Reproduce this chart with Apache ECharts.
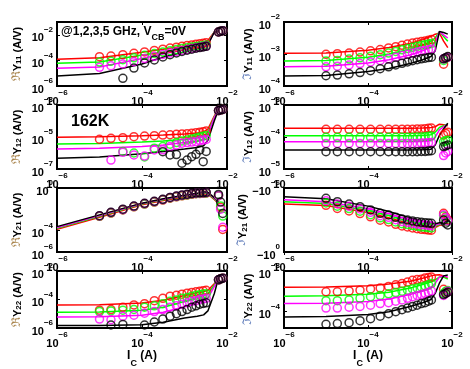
<!DOCTYPE html>
<html><head><meta charset="utf-8">
<script src="https://cdn.jsdelivr.net/npm/echarts@6/dist/echarts.min.js"></script>
<style>html,body{margin:0;padding:0;background:#fff}#c{width:470px;height:369px}</style>
</head><body><div id="c"></div>
<script>
// ---- data (log10 values; Ic in A, Y in A/V) ----
const lineXLeft  = [-6, -5, -4, -3.5, -3, -2.7, -2.55, -2.45, -2.3, -2.2];
const lineXRight = [-6, -5, -4, -3.5, -3, -2.7, -2.5, -2.4, -2.3, -2.2, -2.1];
const measX = [-5, -4.73, -4.45, -4.19, -3.94, -3.71, -3.51, -3.34, -3.19, -3.06, -2.94, -2.83, -2.73, -2.64, -2.56, -2.49, -2.2, -2.15, -2.1];
const freqLabels = ['5 GHz', '3 GHz', '2 GHz', '1 GHz'];
const xTickValues = [-6, -4, -2];

// order of rows in each table: 5, 3, 2, 1 GHz
const reY11Line = [
  [-3.91, -3.79, -3.37, -3.13, -2.88, -2.67, -2.58, -2.45, -1.8, -1.7],
  [-4.23, -4.13, -3.58, -3.34, -3.03, -2.88, -2.8, -2.64, -1.8, -1.7],
  [-4.62, -4.52, -3.85, -3.5, -3.15, -2.98, -2.88, -2.72, -1.8, -1.7],
  [-5.22, -5.02, -4.28, -3.73, -3.34, -3.1, -2.99, -2.8, -1.8, -1.7]];
const reY11Meas = [
  [-3.71, -3.66, -3.55, -3.45, -3.34, -3.22, -3.12, -3.04, -2.97, -2.9, -2.84, -2.79, -2.74, -2.7, -2.66, -2.62, -1.78, -1.72, -1.68],
  [-4.13, -4.06, -3.95, -3.8, -3.6, -3.46, -3.34, -3.24, -3.15, -3.08, -3.02, -2.96, -2.91, -2.87, -2.83, -2.79, -1.78, -1.72, -1.68],
  [-4.54, -4.41, -4.28, -4.1, -3.86, -3.68, -3.53, -3.42, -3.32, -3.23, -3.15, -3.08, -3.02, -2.97, -2.92, -2.88, -1.78, -1.72, -1.68],
  [null, null, -5.4, -4.6, -4.2, -3.97, -3.73, -3.55, -3.42, -3.3, -3.2, -3.12, -3.05, -3.0, -2.95, -2.9, -1.78, -1.72, -1.68]];

const imY11Line = [
  [-2.98, -2.97, -2.88, -2.8, -2.67, -2.55, -2.45, -2.38, -2.35, -2.6, -2.8],
  [-3.22, -3.2, -3.1, -3.0, -2.85, -2.72, -2.6, -2.5, -2.3, -2.45, -2.6],
  [-3.4, -3.38, -3.28, -3.18, -3.03, -2.9, -2.78, -2.65, -2.3, -2.4, -2.5],
  [-3.69, -3.67, -3.55, -3.45, -3.3, -3.18, -3.08, -2.9, -2.3, -2.33, -2.38]];
const imY11Meas = [
  [-3.01, -2.99, -2.97, -2.94, -2.9, -2.86, -2.81, -2.77, -2.73, -2.69, -2.66, -2.63, -2.61, -2.59, -2.57, -2.55, -3.32, -3.14, -3.1],
  [-3.22, -3.2, -3.16, -3.12, -3.07, -3.02, -2.97, -2.92, -2.87, -2.83, -2.79, -2.76, -2.73, -2.71, -2.69, -2.67, -3.2, -3.12, -3.1],
  [-3.4, -3.38, -3.34, -3.3, -3.25, -3.2, -3.15, -3.1, -3.05, -3.01, -2.97, -2.94, -2.91, -2.89, -2.87, -2.85, -3.15, -3.12, -3.1],
  [-3.68, -3.66, -3.62, -3.58, -3.52, -3.46, -3.4, -3.34, -3.29, -3.25, -3.21, -3.18, -3.15, -3.13, -3.11, -3.1, -3.15, -3.12, -3.08]];

const reY12Line = [
  [-5.02, -4.98, -4.92, -4.88, -4.82, -4.75, -4.68, -4.5, -3.7, -3.25],
  [-5.44, -5.4, -5.32, -5.25, -5.15, -5.05, -4.95, -4.7, -3.75, -3.25],
  [-5.75, -5.7, -5.6, -5.5, -5.35, -5.25, -5.15, -4.85, -3.8, -3.25],
  [-6.33, -6.25, -6.05, -5.9, -5.75, -5.65, -5.55, -5.2, -4.0, -3.3]];
const reY12Meas = [
  [-5.14, -5.08, -5.04, -4.98, -4.94, -4.92, -4.88, -4.86, -4.83, -4.81, -4.79, -4.77, -4.73, -4.7, -4.67, -4.62, -3.35, -3.3, -3.28],
  [null, null, -5.9, -6.0, -6.25, -5.7, -5.6, -5.45, -5.35, -5.25, -5.18, -5.12, -5.06, -5.0, -4.95, -4.9, -3.35, -3.3, -3.28],
  [null, -6.44, -5.96, -6.12, -6.19, -5.81, -5.8, -5.6, -5.5, -5.39, -5.35, -5.32, -5.29, -5.22, -5.19, -5.15, -3.35, -3.3, -3.28],
  [null, null, null, null, null, null, -5.92, -6.12, -6.1, -6.64, -6.44, -6.23, -6.08, -5.81, -6.54, -5.9, -3.35, -3.3, -3.28]];

const imY12Line = [
  [-3.73, -3.73, -3.73, -3.73, -3.73, -3.72, -3.7, -3.68, -3.6, -3.62, -3.65],
  [-3.96, -3.96, -3.96, -3.96, -3.96, -3.95, -3.93, -3.85, -3.7, -3.65, -3.6],
  [-4.15, -4.15, -4.15, -4.15, -4.15, -4.14, -4.12, -4.0, -3.78, -3.68, -3.6],
  [-4.41, -4.41, -4.41, -4.41, -4.41, -4.4, -4.38, -4.25, -3.95, -3.75, -3.57]];
const imY12Meas = [
  [-3.76, -3.76, -3.76, -3.76, -3.76, -3.76, -3.76, -3.76, -3.76, -3.76, -3.76, -3.75, -3.75, -3.74, -3.73, -3.72, -3.94, -3.89, -3.85],
  [-4.01, -4.01, -4.01, -4.01, -4.01, -4.01, -4.01, -4.01, -4.01, -4.01, -4.01, -4.0, -4.0, -3.99, -3.98, -3.97, -4.15, -4.12, -4.1],
  [-4.2, -4.2, -4.2, -4.2, -4.2, -4.2, -4.2, -4.2, -4.2, -4.2, -4.2, -4.2, -4.19, -4.19, -4.18, -4.17, -4.58, -4.5, -4.45],
  [-4.46, -4.46, -4.46, -4.46, -4.46, -4.46, -4.46, -4.46, -4.46, -4.46, -4.46, -4.46, -4.45, -4.45, -4.44, -4.43, -4.3, -4.28, -4.25]];

const reY21Line = [
  [-3.88, -2.74, -1.58, -1.18, -0.84, -0.67, -0.53, -0.58, -1.08, -1.44],
  [-3.78, -2.64, -1.5, -1.1, -0.77, -0.6, -0.46, -0.5, -1.02, -1.38],
  [-3.7, -2.58, -1.46, -1.06, -0.72, -0.55, -0.41, -0.44, -0.96, -1.32],
  [-3.62, -2.52, -1.42, -1.01, -0.67, -0.5, -0.36, -0.4, -0.9, -1.26]];
const reY21Meas = [
  [-2.66, -2.35, -2.06, -1.76, -1.51, -1.32, -1.13, -0.95, -0.83, -0.73, -0.66, -0.59, -0.54, -0.52, -0.5, -0.48, -0.72, -1.8, -3.88],
  [-2.64, -2.33, -2.04, -1.74, -1.49, -1.3, -1.1, -0.92, -0.8, -0.71, -0.64, -0.56, -0.52, -0.49, -0.48, -0.46, -0.72, -1.68, -2.63],
  [-2.62, -2.3, -2.02, -1.72, -1.46, -1.27, -1.08, -0.9, -0.78, -0.68, -0.61, -0.54, -0.49, -0.47, -0.46, -0.43, -0.72, -1.99, -3.68],
  [-2.59, -2.28, -1.99, -1.69, -1.44, -1.25, -1.06, -0.88, -0.76, -0.66, -0.59, -0.52, -0.47, -0.44, -0.43, -0.41, -0.6, -1.32, -2.38]];

// Im Y21 is negative: values are log10(|Im Y21|)
const imY21Line = [
  [-4.5, -4.35, -3.7, -3.2, -2.65, -2.38, -2.25, -2.3, -2.5, -2.55, -2.55],
  [-4.72, -4.55, -3.9, -3.42, -2.85, -2.58, -2.42, -2.4, -2.58, -2.62, -2.6],
  [-4.9, -4.72, -4.05, -3.58, -3.0, -2.72, -2.55, -2.5, -2.65, -2.68, -2.65],
  [-5.19, -5.0, -4.3, -3.8, -3.2, -2.9, -2.72, -2.65, -2.75, -2.75, -2.7]];
const imY21Meas = [
  [-4.38, -4.08, -3.85, -3.6, -3.3, -2.98, -2.82, -2.6, -2.44, -2.35, -2.26, -2.19, -2.13, -2.1, -2.06, -2.04, -3.63, -3.3, -3.0],
  [-4.6, -4.3, -4.07, -3.82, -3.5, -3.2, -3.04, -2.82, -2.66, -2.57, -2.48, -2.41, -2.35, -2.32, -2.28, -2.26, -3.4, -3.1, -2.85],
  [-4.8, -4.5, -4.28, -4.03, -3.72, -3.41, -3.25, -3.03, -2.87, -2.78, -2.69, -2.62, -2.56, -2.53, -2.49, -2.47, -3.5, -3.2, -2.9],
  [-5.03, -4.72, -4.5, -4.25, -3.94, -3.63, -3.47, -3.25, -3.09, -3.0, -2.91, -2.84, -2.78, -2.75, -2.71, -2.69, -3.0, -2.7, -2.53]];

const reY22Line = [
  [-4.38, -4.36, -4.25, -4.05, -3.72, -3.52, -3.45, -3.35, -2.9, -2.5],
  [-4.9, -4.88, -4.75, -4.55, -4.15, -3.85, -3.75, -3.6, -3.0, -2.5],
  [-5.23, -5.21, -5.1, -4.9, -4.5, -4.2, -4.08, -3.9, -3.1, -2.5],
  [-5.83, -5.82, -5.78, -5.6, -5.3, -5.18, -5.08, -4.8, -3.6, -2.5]];
const reY22Meas = [
  [-4.75, -4.71, -4.54, -4.38, -4.29, -4.08, -3.92, -3.77, -3.71, -3.63, -3.56, -3.5, -3.46, -3.42, -3.39, -3.35, -2.62, -2.55, -2.5],
  [-4.85, -4.8, -4.75, -4.7, -4.54, -4.44, -4.29, -4.13, -4.03, -3.92, -3.86, -3.78, -3.71, -3.66, -3.62, -3.6, -2.62, -2.55, -2.5],
  [-5.37, -5.42, -5.17, -5.1, -4.96, -4.85, -4.71, -4.54, -4.44, -4.33, -4.23, -4.13, -4.08, -4.0, -3.96, -3.92, -2.62, -2.55, -2.5],
  [null, -5.79, -5.75, null, -5.79, -5.58, -5.37, -5.17, -5.0, -4.85, -4.71, -4.54, -4.44, -4.33, -4.28, -4.23, -2.62, -2.55, -2.5]];

const imY22Line = [
  [-3.4, -3.39, -3.36, -3.32, -3.25, -3.18, -3.12, -3.1, -3.09, -3.12, -3.18],
  [-3.62, -3.61, -3.57, -3.52, -3.42, -3.33, -3.27, -3.22, -3.15, -3.15, -3.2],
  [-3.8, -3.79, -3.75, -3.69, -3.58, -3.49, -3.42, -3.3, -3.15, -3.12, -3.15],
  [-4.13, -4.12, -4.07, -4.0, -3.87, -3.78, -3.7, -3.55, -3.3, -3.12, -3.1]];
const imY22Meas = [
  [-3.51, -3.51, -3.49, -3.47, -3.44, -3.42, -3.38, -3.34, -3.31, -3.27, -3.23, -3.21, -3.2, -3.17, -3.16, -3.15, -3.45, -3.52, -3.5],
  [-3.73, -3.73, -3.71, -3.67, -3.63, -3.6, -3.56, -3.53, -3.5, -3.47, -3.44, -3.42, -3.39, -3.37, -3.34, -3.31, -3.55, -3.5, -3.48],
  [-3.91, -3.91, -3.89, -3.87, -3.84, -3.8, -3.78, -3.74, -3.71, -3.67, -3.63, -3.6, -3.58, -3.55, -3.53, -3.49, -3.6, -3.55, -3.5],
  [-4.31, -4.29, -4.27, -4.22, -4.17, -4.11, -4.05, -4.0, -3.95, -3.91, -3.87, -3.84, -3.8, -3.78, -3.74, -3.71, -3.58, -3.55, -3.52]];

// ---- chart ----
const colors = ['#ff0000', '#00ff00', '#ff00ff', '#000000'];
const FONT = 'Liberation Sans, Arial, Helvetica, sans-serif';
const colLeft = [57, 284], colWidth = [170, 168];
const rowTop = [22, 105, 188, 271], rowH = 64;

const panels = [
  {part: 'ℜ', sub: '11', line: reY11Line, meas: reY11Meas, lx: lineXLeft, col: 0, row: 0, min: -6, max: -1, ticks: [-6, -4, -2]},
  {part: 'ℑ', sub: '11', line: imY11Line, meas: imY11Meas, lx: lineXRight, col: 1, row: 0, min: -4, max: -2, ticks: [-4, -3, -2]},
  {part: 'ℜ', sub: '12', line: reY12Line, meas: reY12Meas, lx: lineXLeft, col: 0, row: 1, min: -7, max: -3, ticks: [-7, -5, -3]},
  {part: 'ℑ', sub: '12', line: imY12Line, meas: imY12Meas, lx: lineXRight, col: 1, row: 1, min: -5, max: -3, ticks: [-5, -4, -3]},
  {part: 'ℜ', sub: '21', line: reY21Line, meas: reY21Meas, lx: lineXLeft, col: 0, row: 2, min: -6, max: 0, ticks: [-6, -4, 0]},
  {part: 'ℑ', sub: '21', line: imY21Line, meas: imY21Meas, lx: lineXRight, col: 1, row: 2, min: -6, max: 0, ticks: [-6, 0], neg: true},
  {part: 'ℜ', sub: '22', line: reY22Line, meas: reY22Meas, lx: lineXLeft, col: 0, row: 3, min: -6, max: -2, ticks: [-6, -4, -2]},
  {part: 'ℑ', sub: '22', line: imY22Line, meas: imY22Meas, lx: lineXRight, col: 1, row: 3, min: -4.4, max: -3, ticks: [-4, -3]}
];

const powRich = {
  b: {fontSize: 11, fontWeight: 'bold', fontFamily: FONT, color: '#000', lineHeight: 18, verticalAlign: 'bottom'},
  s: {fontSize: 8, fontWeight: 'bold', fontFamily: FONT, color: '#000', lineHeight: 9, verticalAlign: 'top'}
};
function powLabel(v, neg) {
  const e = Math.round(v);
  const s = e < 0 ? '\u2212' + (-e) : '' + e;
  return (neg ? '{b|\u221210}' : '{b|10}') + '{s|' + s + '}';
}
const nameRich = {
  r: {fontSize: 12, fontFamily: 'DejaVu Serif, serif', color: '#a8834a', lineHeight: 18, verticalAlign: 'bottom'},
  i: {fontSize: 12, fontFamily: 'DejaVu Serif, serif', color: '#5a78b8', lineHeight: 18, verticalAlign: 'bottom'},
  b: {fontSize: 11, fontWeight: 'bold', fontFamily: FONT, color: '#000', lineHeight: 18, verticalAlign: 'bottom'},
  sub: {fontSize: 8, fontWeight: 'bold', fontFamily: FONT, color: '#000', lineHeight: 9, verticalAlign: 'bottom'}
};
const xNameRich = {
  b: {fontSize: 12, fontWeight: 'bold', fontFamily: FONT, color: '#000', lineHeight: 18, verticalAlign: 'top'},
  sub: {fontSize: 9, fontWeight: 'bold', fontFamily: FONT, color: '#000', lineHeight: 9, verticalAlign: 'bottom'}
};
const tickStyle = {color: '#000', width: 1};

const grid = [], xAxis = [], yAxis = [], series = [];
panels.forEach((p, i) => {
  grid.push({left: colLeft[p.col], top: rowTop[p.row], width: colWidth[p.col], height: rowH,
    show: true, borderColor: '#000', borderWidth: 2, backgroundColor: '#fff', containLabel: false});
  const bottomRow = p.row === 3;
  xAxis.push({type: 'value', gridIndex: i, min: -6, max: -2, position: 'bottom',
    axisLine: {show: false}, splitLine: {show: false},
    axisTick: {show: true, inside: true, length: 3, lineStyle: tickStyle, customValues: xTickValues},
    axisLabel: {margin: 3, customValues: xTickValues, formatter: v => powLabel(v, false), rich: powRich},
    name: bottomRow ? '{b|I}{sub|C}{b| (A)}' : '', nameLocation: 'middle', nameGap: 22,
    nameTextStyle: {rich: xNameRich}
  });
  const sym = p.part === 'ℜ' ? 'r' : 'i';
  yAxis.push({type: 'value', gridIndex: i, min: p.min, max: p.max, inverse: !!p.neg, position: 'left',
    axisLine: {show: false}, splitLine: {show: false},
    axisTick: {show: true, inside: true, length: 3, lineStyle: tickStyle, customValues: p.ticks},
    axisLabel: {margin: 4, customValues: p.ticks, formatter: v => powLabel(v, p.neg), rich: powRich},
    name: '{' + sym + '|' + p.part + '}{b|Y}{sub|' + p.sub + '}{b| (A/V)}',
    nameLocation: 'middle', nameRotate: 90, nameGap: p.col === 0 ? 34 : 30,
    nameTextStyle: {rich: nameRich}
  });
  for (let c = 0; c < 4; c++) {
    series.push({type: 'line', name: freqLabels[c], xAxisIndex: i, yAxisIndex: i,
      data: p.lx.map((x, j) => [x, p.line[c][j]]), showSymbol: false, silent: true,
      lineStyle: {color: colors[c], width: 1.5}, z: 2, animation: false});
  }
  for (let c = 0; c < 4; c++) {
    const d = [];
    measX.forEach((x, j) => { if (p.meas[c][j] !== null) d.push([x, p.meas[c][j]]); });
    series.push({type: 'scatter', name: freqLabels[c], xAxisIndex: i, yAxisIndex: i, data: d,
      symbol: 'circle', symbolSize: 8, silent: true,
      itemStyle: {color: 'rgba(0,0,0,0)', borderColor: colors[c], borderWidth: 1.5}, z: 3, animation: false});
  }
});
// mirrored tick marks on the top and right edges of every box
panels.forEach((p, i) => {
  xAxis.push({type: 'value', gridIndex: i, min: -6, max: -2, position: 'top',
    axisLine: {show: false}, splitLine: {show: false}, axisLabel: {show: false},
    axisTick: {show: true, inside: true, length: 3, lineStyle: tickStyle, customValues: xTickValues}});
  yAxis.push({type: 'value', gridIndex: i, min: p.min, max: p.max, inverse: !!p.neg, position: 'right',
    axisLine: {show: false}, splitLine: {show: false}, axisLabel: {show: false},
    axisTick: {show: true, inside: true, length: 3, lineStyle: tickStyle, customValues: p.ticks}});
});

const chart = echarts.init(document.getElementById('c'), null, {renderer: 'canvas'});
chart.setOption({
  animation: false,
  backgroundColor: '#fff',
  grid, xAxis, yAxis, series,
  graphic: [
    {type: 'text', left: 61, top: 26, z: 10, style: {
      text: '{b|@1,2,3,5 GHz, V}{sub|CB}{b|=0V}',
      rich: {b: {fontSize: 12, fontWeight: 'bold', fontFamily: FONT, fill: '#000', lineHeight: 16, verticalAlign: 'top'},
             sub: {fontSize: 9, fontWeight: 'bold', fontFamily: FONT, fill: '#000', lineHeight: 9, verticalAlign: 'bottom'}}}},
    {type: 'text', left: 71, top: 114, z: 10, style: {text: '162K', fontSize: 16, fontWeight: 'bold', fontFamily: FONT, fill: '#000'}}
  ]
});
</script>
</body></html>
